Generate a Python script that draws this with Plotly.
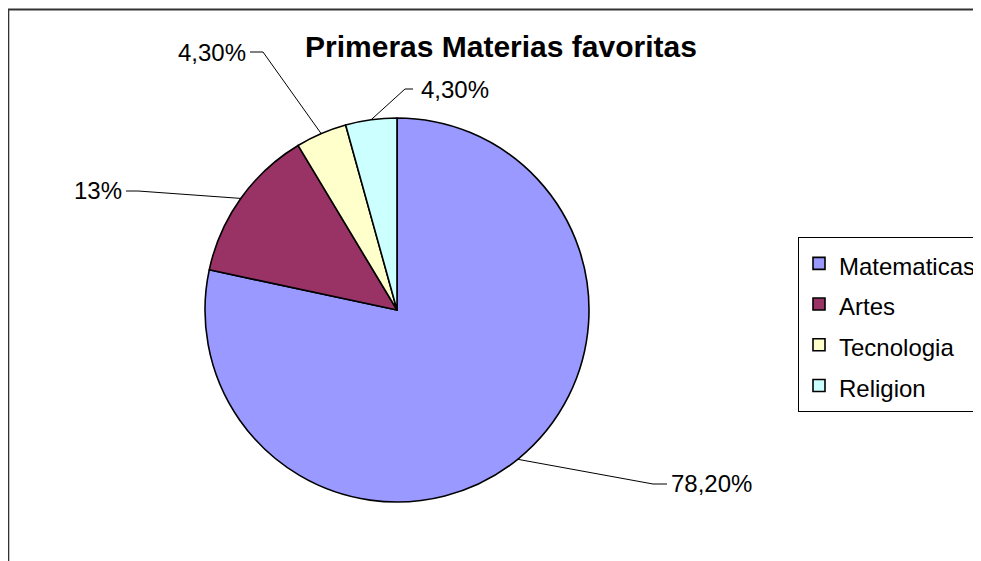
import math
import plotly.graph_objects as go

# ---- data ----
categories = ["Matematicas", "Artes", "Tecnologia", "Religion"]
values = [78.2, 13.0, 4.3, 4.3]
label_texts = ["78,20%", "13%", "4,30%", "4,30%"]
colors = ["#9999FF", "#993366", "#FFFFCC", "#CCFFFF"]

WIN_W, WIN_H = 981, 561
OFF = 8                     # page body margin in the browser
FW, FH = WIN_W - OFF, WIN_H - OFF
FONT = "Liberation Sans, Arial, sans-serif"

# pie geometry (window pixels)
CX, CY, R = 397, 310, 192

def px(x):
    return (x - OFF) / FW

def py(y):
    return 1 - (y - OFF) / FH

fig = go.Figure()
fig.add_trace(go.Pie(
    labels=[f'<span style="font-size:24px">{c}</span>' for c in categories],
    values=values,
    sort=False,
    direction="clockwise",
    rotation=0,
    textinfo="none",
    hovertext=categories,
    hoverinfo="text+percent",
    marker=dict(colors=colors, line=dict(color="#000000", width=1.6)),
    domain=dict(x=[px(CX - R), px(CX + R)], y=[py(CY + R), py(CY - R)]),
    showlegend=True,
))

# label text centres and leader-line elbows/ends (window pixels, layout only)
label_pos = [(711, 483), (98, 190), (212, 53), (455, 89)]
leader_elbow = [(653, 484), (138, 191), (263, 52), (405, 89)]
leader_end = [(667, 484), (126, 191), (250, 52), (413, 89)]

total = sum(values)
cum = 0.0
annotations = []
shapes = []
for i, v in enumerate(values):
    mid = cum + v / 2
    cum += v
    theta = math.radians(90 - 360 * mid / total)
    ex = CX + R * math.cos(theta)
    ey = CY - R * math.sin(theta)
    (bx, by), (tx, ty) = leader_elbow[i], leader_end[i]
    shapes.append(dict(
        type="path", xref="paper", yref="paper",
        path=f"M {px(ex)},{py(ey)} L {px(bx)},{py(by)} L {px(tx)},{py(ty)}",
        line=dict(color="#000000", width=1),
    ))
    lx, ly = label_pos[i]
    annotations.append(dict(
        x=px(lx), y=py(ly), xref="paper", yref="paper",
        text=label_texts[i], showarrow=False,
        xanchor="center", yanchor="middle",
        font=dict(family=FONT, size=24, color="#000000"),
    ))

annotations.append(dict(
    x=px(501), y=py(46), xref="paper", yref="paper",
    text="<b>Primeras Materias favoritas</b>", showarrow=False,
    xanchor="center", yanchor="middle",
    font=dict(family=FONT, size=30, color="#000000"),
))

# chart border (runs past the right and bottom edges)
shapes.append(dict(
    type="rect", xref="paper", yref="paper",
    x0=px(8.3), x1=px(WIN_W + 30), y0=py(WIN_H + 30), y1=py(9.5),
    line=dict(color="#333333", width=2), fillcolor="rgba(0,0,0,0)",
))

fig.update_layout(
    width=FW, height=FH,
    margin=dict(l=0, r=0, t=0, b=0, autoexpand=False),
    paper_bgcolor="#FFFFFF",
    plot_bgcolor="#FFFFFF",
    font=dict(family=FONT, color="#000000"),
    annotations=annotations,
    shapes=shapes,
    legend=dict(
        x=px(798), y=py(237), xanchor="left", yanchor="top",
        bordercolor="#000000", borderwidth=1, bgcolor="#FFFFFF",
        font=dict(family=FONT, size=29, color="#000000"),
    ),
)

fig.write_html("out.html")
